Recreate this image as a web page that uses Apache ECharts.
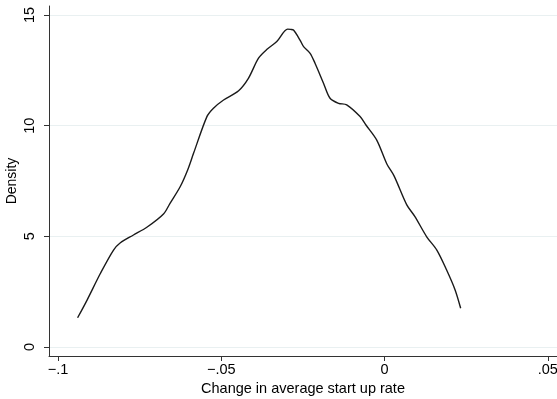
<!DOCTYPE html>
<html><head><meta charset="utf-8">
<script src="https://cdn.jsdelivr.net/npm/echarts@6/dist/echarts.min.js"></script>
<style>html,body{margin:0;padding:0;background:#fff}#c{width:557px;height:399px}</style>
</head><body><div id="c"></div>
<script>
var xVals = [-0.0940,-0.0911,-0.0870,-0.0830,-0.0809,-0.0769,-0.0728,-0.0677,-0.0657,-0.0626,-0.0603,-0.0585,-0.0544,-0.0524,-0.0493,-0.0447,-0.0417,-0.0386,-0.0360,-0.0330,-0.0297,-0.0288,-0.0279,-0.0259,-0.0248,-0.0228,-0.0213,-0.0187,-0.0167,-0.0141,-0.0116,-0.0075,-0.0057,-0.0024,0.0007,0.0029,0.0068,0.0093,0.0129,0.0160,0.0190,0.0216,0.0233];
var density = [1.32,2.12,3.33,4.38,4.71,5.06,5.41,6.01,6.49,7.24,8.00,8.75,10.41,10.79,11.16,11.58,12.14,13.05,13.45,13.80,14.36,14.35,14.32,13.87,13.57,13.27,12.82,11.92,11.24,11.01,10.94,10.41,10.03,9.35,8.27,7.73,6.42,5.89,4.98,4.38,3.48,2.58,1.75];
var xTicks = [-0.1,-0.05,0,0.05];
var xTickLabels = ['\u2212.1','\u2212.05','0','.05'];
var yTicks = [0,5,10,15];
var yTickLabels = ['0','5','10','15'];

var pts = xVals.map(function(x,i){return [x,density[i]];});
var font = 'Liberation Sans, Arial, Helvetica, sans-serif';
var chart = echarts.init(document.getElementById('c'));
chart.setOption({
  animation:false,
  backgroundColor:'#fff',
  grid:{left:49,right:0,top:6,bottom:43,containLabel:false,outerBoundsMode:'none'},
  xAxis:{type:'value',min:-0.10276,max:0.0528,
    name:'Change in average start up rate',nameLocation:'middle',nameGap:23,
    nameTextStyle:{fontFamily:font,fontSize:14.5,color:'#000'},
    axisLine:{show:true,onZero:false,lineStyle:{color:'#333',width:1}},
    axisTick:{show:true,length:5,customValues:xTicks,lineStyle:{color:'#333'}},
    axisLabel:{customValues:xTicks,fontFamily:font,fontSize:14.5,color:'#000',margin:6,
      formatter:function(v){var i=xTicks.findIndex(function(t){return Math.abs(t-v)<1e-9;});return i>=0?xTickLabels[i]:'';}},
    splitLine:{show:false}},
  yAxis:{type:'value',min:-0.407,max:15.407,
    name:'Density',nameLocation:'middle',nameGap:30,nameRotate:90,nameMoveOverlap:false,
    nameTextStyle:{fontFamily:font,fontSize:14,color:'#000'},
    axisLine:{show:true,onZero:false,lineStyle:{color:'#333',width:1}},
    axisTick:{show:true,length:5,customValues:yTicks,lineStyle:{color:'#333'}},
    axisLabel:{customValues:yTicks,fontFamily:font,fontSize:14.5,color:'#000',rotate:90,margin:12,
      formatter:function(v){var i=yTicks.findIndex(function(t){return Math.abs(t-v)<1e-9;});return i>=0?yTickLabels[i]:'';}},
    splitLine:{show:true,lineStyle:{color:'#e9f0f1',width:1}}},
  series:[{type:'line',data:pts,showSymbol:false,smooth:0.3,
    lineStyle:{color:'#1a1a1a',width:1.4}}]
});
</script></body></html>
